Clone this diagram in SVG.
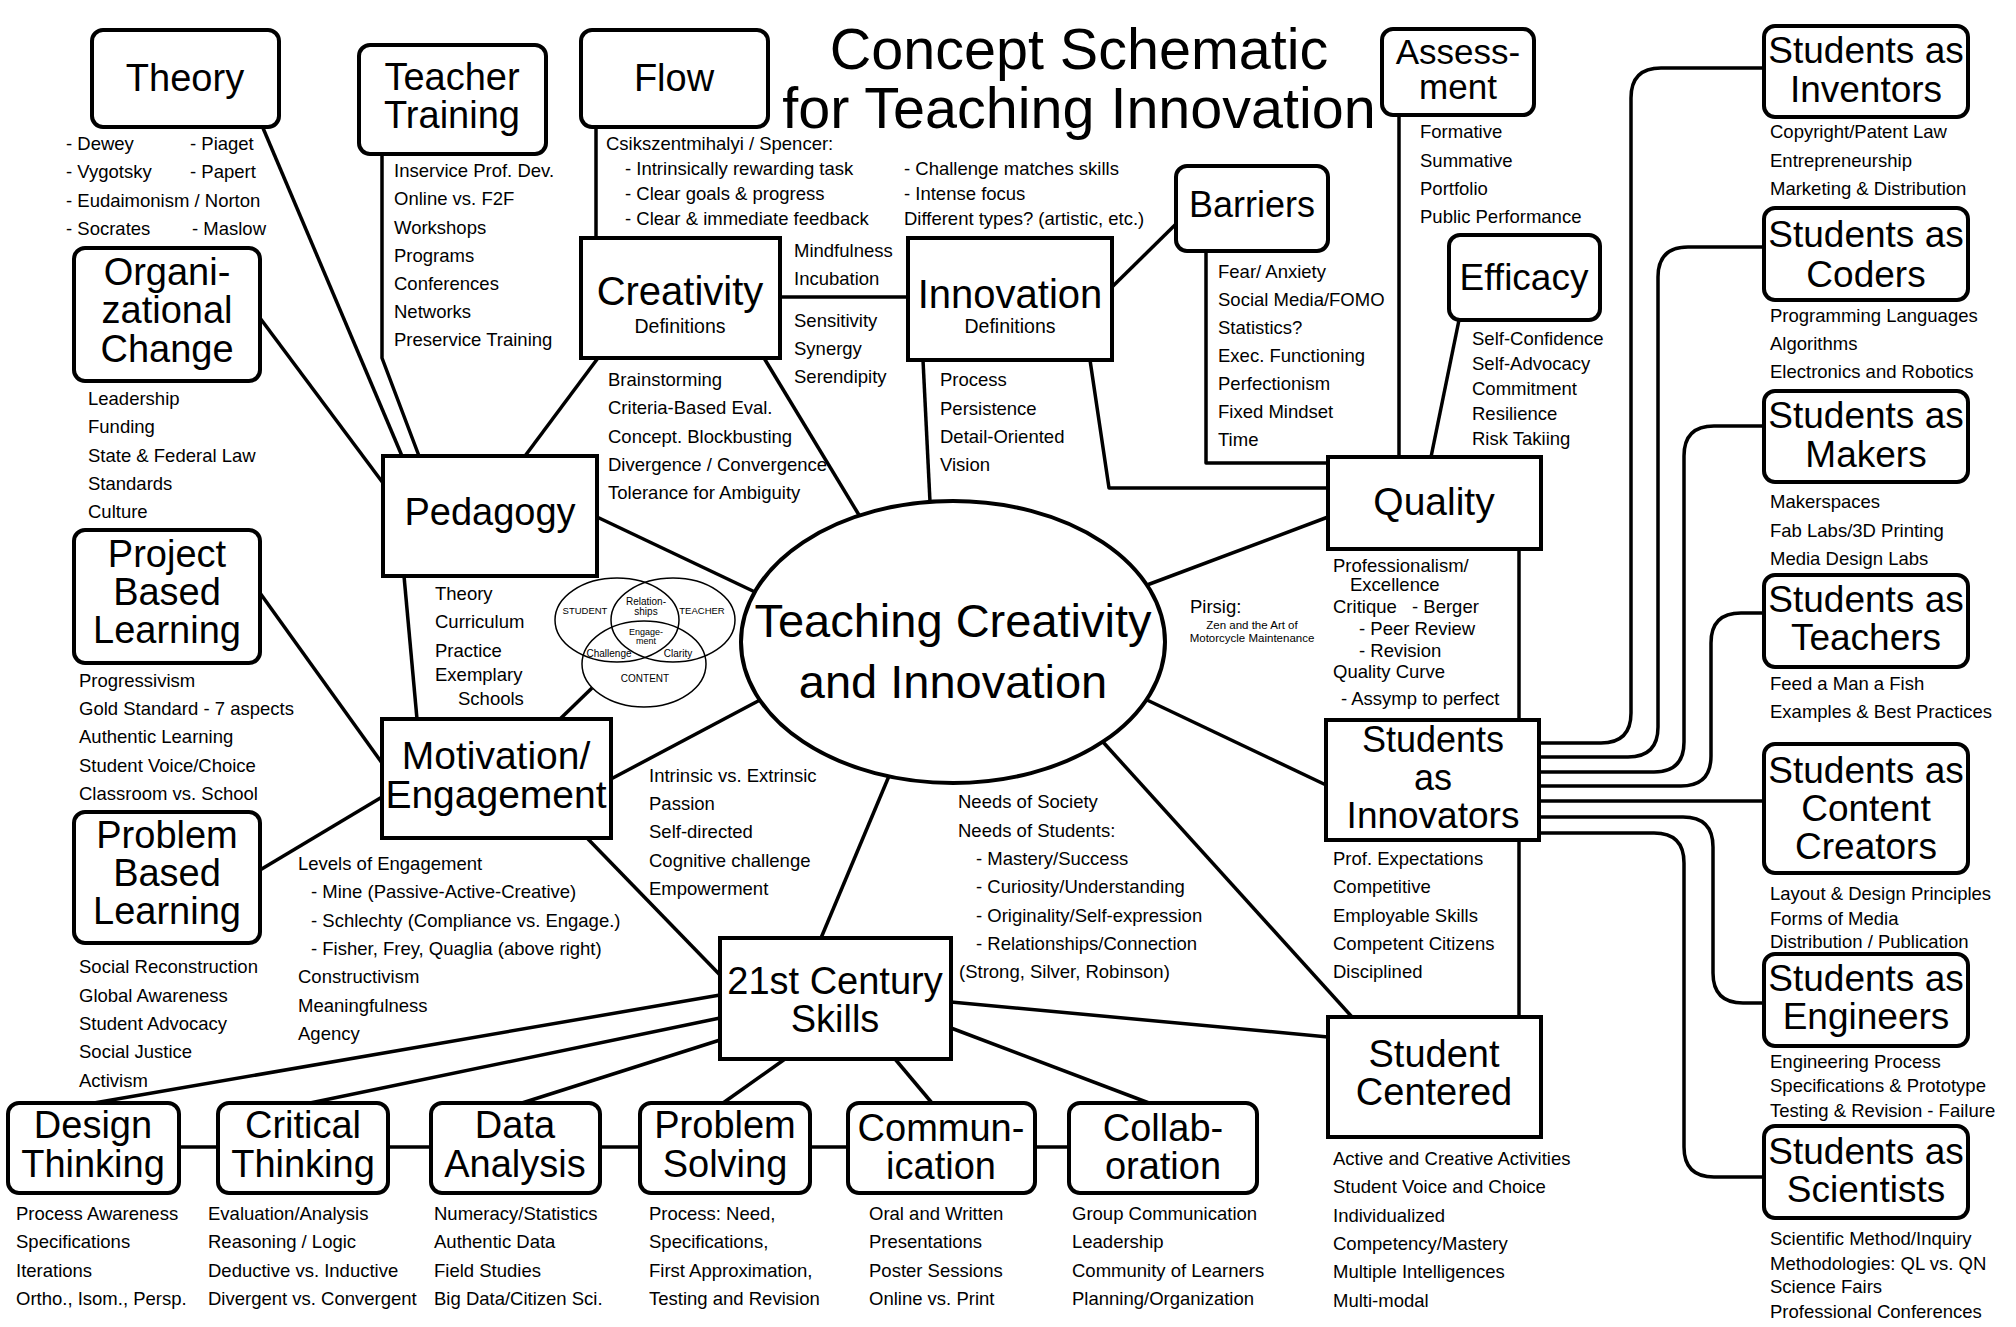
<svg xmlns="http://www.w3.org/2000/svg" width="2016" height="1327" viewBox="0 0 2016 1327">
<style>
text{font-family:"Liberation Sans",Arial,sans-serif;fill:#000}
.t{font-size:18.5px}
.h{font-size:38px;text-anchor:middle}
.s{font-size:37px;text-anchor:middle}
.d{font-size:19.5px;text-anchor:middle}
.v{font-size:10px;text-anchor:middle}
.box{fill:#fff;stroke:#000;stroke-width:4}
.ln{fill:none;stroke:#000;stroke-width:3.5;stroke-linejoin:round}
.ven{fill:none;stroke:#000;stroke-width:1.5}
</style>
<rect width="2016" height="1327" fill="#fff"/>
<g id="title">
<text style="font-size:57.5px;text-anchor:middle"><tspan x="1079" y="69">Concept Schematic</tspan><tspan x="1079" y="128">for Teaching Innovation</tspan></text>
</g>
<g id="connectors">
<polyline class="ln" points="263,128 402,456"/>
<polyline class="ln" points="382,154 382,358 419,456"/>
<polyline class="ln" points="260,318 383,483"/>
<polyline class="ln" points="596,127 596,238"/>
<polyline class="ln" points="598,358 525,456"/>
<polyline class="ln" points="780,297 908,297"/>
<polyline class="ln" points="764,358 859,515"/>
<polyline class="ln" points="923,360 930,502"/>
<polyline class="ln" points="1112,287 1177,223"/>
<polyline class="ln" points="1090,360 1109,488 1328,488"/>
<polyline class="ln" points="1206,251 1206,463 1328,463"/>
<polyline class="ln" points="1399,115 1399,457"/>
<polyline class="ln" points="1459,320 1431,457"/>
<polyline class="ln" points="1328,517 1147,585"/>
<polyline class="ln" points="1519,549 1519,720"/>
<polyline class="ln" points="1519,840 1519,1017"/>
<polyline class="ln" points="1147,700 1326,785"/>
<polyline class="ln" points="1103,742 1352,1017"/>
<polyline class="ln" points="889,776 821,938"/>
<polyline class="ln" points="597,517 755,592"/>
<polyline class="ln" points="404,576 417,719"/>
<polyline class="ln" points="560,719 592,688"/>
<polyline class="ln" points="611,779 760,700"/>
<polyline class="ln" points="587,838 720,975"/>
<polyline class="ln" points="260,593 382,763"/>
<polyline class="ln" points="260,870 382,797"/>
<polyline class="ln" points="720,995 94,1103"/>
<polyline class="ln" points="720,1018 310,1103"/>
<polyline class="ln" points="720,1040 522,1103"/>
<polyline class="ln" points="785,1059 723,1103"/>
<polyline class="ln" points="895,1059 932,1103"/>
<polyline class="ln" points="951,1028 1149,1103"/>
<polyline class="ln" points="951,1002 1328,1037"/>
<polyline class="ln" points="179,1147 1069,1147"/>
<path class="ln" d="M1539,743 H1601 Q1631,743 1631,713 V98 Q1631,68 1661,68 H1764"/>
<path class="ln" d="M1539,757 H1628 Q1658,757 1658,727 V277 Q1658,247 1688,247 H1764"/>
<path class="ln" d="M1539,772 H1654 Q1684,772 1684,742 V456 Q1684,426 1714,426 H1764"/>
<path class="ln" d="M1539,786 H1681 Q1711,786 1711,756 V643 Q1711,613 1741,613 H1764"/>
<path class="ln" d="M1539,801 H1764"/>
<path class="ln" d="M1539,817 H1683 Q1713,817 1713,847 V973 Q1713,1003 1743,1003 H1764"/>
<path class="ln" d="M1539,833 H1654 Q1684,833 1684,863 V1147 Q1684,1177 1714,1177 H1764"/>
</g>
<g id="theory">
<rect class="box" x="92" y="30" width="187" height="97" rx="11"/>
<text class="h" x="185" y="91">Theory</text>
<text class="t" x="66" y="150">- Dewey</text><text class="t" x="190" y="150">- Piaget</text>
<text class="t" x="66" y="178">- Vygotsky</text><text class="t" x="190" y="178">- Papert</text>
<text class="t" x="66" y="207">- Eudaimonism / Norton</text>
<text class="t" x="66" y="235">- Socrates</text><text class="t" x="192" y="235">- Maslow</text>
</g>
<g id="teacher-training">
<rect class="box" x="359" y="45" width="187" height="109" rx="11"/>
<text class="h"><tspan x="452" y="90">Teacher</tspan><tspan x="452" y="128">Training</tspan></text>
<text class="t" x="394" y="177">Inservice Prof. Dev.</text>
<text class="t" x="394" y="205">Online vs. F2F</text>
<text class="t" x="394" y="234">Workshops</text>
<text class="t" x="394" y="262">Programs</text>
<text class="t" x="394" y="290">Conferences</text>
<text class="t" x="394" y="318">Networks</text>
<text class="t" x="394" y="346">Preservice Training</text>
</g>
<g id="flow">
<rect class="box" x="581" y="30" width="187" height="97" rx="11"/>
<text class="h" x="674" y="91">Flow</text>
<text class="t" x="606" y="150">Csikszentmihalyi / Spencer:</text>
<text class="t" x="625" y="175">- Intrinsically rewarding task</text>
<text class="t" x="625" y="200">- Clear goals &amp; progress</text>
<text class="t" x="625" y="225">- Clear &amp; immediate feedback</text>
<text class="t" x="904" y="175">- Challenge matches skills</text>
<text class="t" x="904" y="200">- Intense focus</text>
<text class="t" x="904" y="225">Different types? (artistic, etc.)</text>
</g>
<g id="org-change">
<rect class="box" x="74" y="248" width="186" height="133" rx="11"/>
<text class="h"><tspan x="167" y="285">Organi-</tspan><tspan x="167" y="323">zational</tspan><tspan x="167" y="362">Change</tspan></text>
<text class="t" x="88" y="405">Leadership</text>
<text class="t" x="88" y="433">Funding</text>
<text class="t" x="88" y="462">State &amp; Federal Law</text>
<text class="t" x="88" y="490">Standards</text>
<text class="t" x="88" y="518">Culture</text>
</g>
<g id="project-based">
<rect class="box" x="74" y="530" width="186" height="133" rx="11"/>
<text class="h"><tspan x="167" y="567">Project</tspan><tspan x="167" y="605">Based</tspan><tspan x="167" y="643">Learning</tspan></text>
<text class="t" x="79" y="687">Progressivism</text>
<text class="t" x="79" y="715">Gold Standard - 7 aspects</text>
<text class="t" x="79" y="743">Authentic Learning</text>
<text class="t" x="79" y="772">Student Voice/Choice</text>
<text class="t" x="79" y="800">Classroom vs. School</text>
</g>
<g id="problem-based">
<rect class="box" x="74" y="812" width="186" height="131" rx="11"/>
<text class="h"><tspan x="167" y="848">Problem</tspan><tspan x="167" y="886">Based</tspan><tspan x="167" y="924">Learning</tspan></text>
<text class="t" x="79" y="973">Social Reconstruction</text>
<text class="t" x="79" y="1002">Global Awareness</text>
<text class="t" x="79" y="1030">Student Advocacy</text>
<text class="t" x="79" y="1058">Social Justice</text>
<text class="t" x="79" y="1087">Activism</text>
</g>
<g id="creativity">
<rect class="box" x="581" y="238" width="199" height="120"/>
<text class="h" x="680" y="305" style="font-size:40px">Creativity</text>
<text class="d" x="680" y="333">Definitions</text>
<text class="t" x="608" y="386">Brainstorming</text>
<text class="t" x="608" y="414">Criteria-Based Eval.</text>
<text class="t" x="608" y="443">Concept. Blockbusting</text>
<text class="t" x="608" y="471">Divergence / Convergence</text>
<text class="t" x="608" y="499">Tolerance for Ambiguity</text>
<text class="t" x="794" y="257">Mindfulness</text>
<text class="t" x="794" y="285">Incubation</text>
<text class="t" x="794" y="327">Sensitivity</text>
<text class="t" x="794" y="355">Synergy</text>
<text class="t" x="794" y="383">Serendipity</text>
</g>
<g id="innovation">
<rect class="box" x="908" y="238" width="204" height="122"/>
<text class="h" x="1010" y="308" style="font-size:40px">Innovation</text>
<text class="d" x="1010" y="333">Definitions</text>
<text class="t" x="940" y="386">Process</text>
<text class="t" x="940" y="415">Persistence</text>
<text class="t" x="940" y="443">Detail-Oriented</text>
<text class="t" x="940" y="471">Vision</text>
</g>
<g id="barriers">
<rect class="box" x="1176" y="166" width="152" height="85" rx="11"/>
<text class="h" x="1252" y="217" style="font-size:36px">Barriers</text>
<text class="t" x="1218" y="278">Fear/ Anxiety</text>
<text class="t" x="1218" y="306">Social Media/FOMO</text>
<text class="t" x="1218" y="334">Statistics?</text>
<text class="t" x="1218" y="362">Exec. Functioning</text>
<text class="t" x="1218" y="390">Perfectionism</text>
<text class="t" x="1218" y="418">Fixed Mindset</text>
<text class="t" x="1218" y="446">Time</text>
</g>
<g id="assessment">
<rect class="box" x="1382" y="29" width="152" height="86" rx="11"/>
<text class="s" style="font-size:35px"><tspan x="1458" y="64">Assess-</tspan><tspan x="1458" y="99">ment</tspan></text>
<text class="t" x="1420" y="138">Formative</text>
<text class="t" x="1420" y="167">Summative</text>
<text class="t" x="1420" y="195">Portfolio</text>
<text class="t" x="1420" y="223">Public Performance</text>
</g>
<g id="efficacy">
<rect class="box" x="1449" y="235" width="151" height="85" rx="11"/>
<text class="s" x="1524" y="290">Efficacy</text>
<text class="t" x="1472" y="345">Self-Confidence</text>
<text class="t" x="1472" y="370">Self-Advocacy</text>
<text class="t" x="1472" y="395">Commitment</text>
<text class="t" x="1472" y="420">Resilience</text>
<text class="t" x="1472" y="445">Risk Takiing</text>
</g>
<g id="pedagogy">
<rect class="box" x="383" y="456" width="214" height="120"/>
<text class="h" x="490" y="525">Pedagogy</text>
<text class="t" x="435" y="600">Theory</text>
<text class="t" x="435" y="628">Curriculum</text>
<text class="t" x="435" y="657">Practice</text>
<text class="t"><tspan x="435" y="681">Exemplary</tspan><tspan x="458" y="705">Schools</tspan></text>
</g>
<g id="venn">
<ellipse class="ven" cx="617" cy="620" rx="62" ry="42"/>
<ellipse class="ven" cx="673" cy="620" rx="62" ry="42"/>
<ellipse class="ven" cx="644" cy="664" rx="62" ry="43"/>
<text class="v" x="585" y="614" style="font-size:9.5px">STUDENT</text>
<text class="v" x="702" y="614" style="font-size:9.5px">TEACHER</text>
<text class="v"><tspan x="646" y="605">Relation-</tspan><tspan x="646" y="615">ships</tspan></text>
<text class="v" style="font-size:9px"><tspan x="646" y="635">Engage-</tspan><tspan x="646" y="644">ment</tspan></text>
<text class="v" x="609" y="657">Challenge</text>
<text class="v" x="678" y="657">Clarity</text>
<text class="v" x="645" y="682">CONTENT</text>
</g>
<g id="motivation">
<rect class="box" x="382" y="719" width="229" height="119"/>
<text class="h" style="font-size:39px"><tspan x="496" y="769">Motivation/</tspan><tspan x="496" y="808">Engagement</tspan></text>
<text class="t" x="649" y="782">Intrinsic vs. Extrinsic</text>
<text class="t" x="649" y="810">Passion</text>
<text class="t" x="649" y="838">Self-directed</text>
<text class="t" x="649" y="867">Cognitive challenge</text>
<text class="t" x="649" y="895">Empowerment</text>
<text class="t" x="298" y="870">Levels of Engagement</text>
<text class="t" x="311" y="898">- Mine (Passive-Active-Creative)</text>
<text class="t" x="311" y="927">- Schlechty (Compliance vs. Engage.)</text>
<text class="t" x="311" y="955">- Fisher, Frey, Quaglia (above right)</text>
<text class="t" x="298" y="983">Constructivism</text>
<text class="t" x="298" y="1012">Meaningfulness</text>
<text class="t" x="298" y="1040">Agency</text>
</g>
<g id="center">
<ellipse cx="953" cy="642" rx="212" ry="141" fill="#fff" stroke="#000" stroke-width="4"/>
<text style="font-size:47px;text-anchor:middle"><tspan x="953" y="637">Teaching Creativity</tspan><tspan x="953" y="698">and Innovation</tspan></text>
</g>
<g id="pirsig">
<text class="t" x="1190" y="613">Pirsig:</text>
<text style="font-size:11.5px;text-anchor:middle"><tspan x="1252" y="629">Zen and the Art of</tspan><tspan x="1252" y="642">Motorcycle Maintenance</tspan></text>
</g>
<g id="needs">
<text class="t" x="958" y="808">Needs of Society</text>
<text class="t" x="958" y="837">Needs of Students:</text>
<text class="t" x="976" y="865">- Mastery/Success</text>
<text class="t" x="976" y="893">- Curiosity/Understanding</text>
<text class="t" x="976" y="922">- Originality/Self-expression</text>
<text class="t" x="976" y="950">- Relationships/Connection</text>
<text class="t" x="959" y="978">(Strong, Silver, Robinson)</text>
</g>
<g id="quality">
<rect class="box" x="1328" y="457" width="213" height="92"/>
<text class="h" x="1434" y="515" style="font-size:39px">Quality</text>
<text class="t"><tspan x="1333" y="572">Professionalism/</tspan><tspan x="1350" y="591">Excellence</tspan></text>
<text class="t" x="1333" y="613">Critique</text>
<text class="t" x="1412" y="613">- Berger</text>
<text class="t" x="1359" y="635">- Peer Review</text>
<text class="t" x="1359" y="657">- Revision</text>
<text class="t" x="1333" y="678">Quality Curve</text>
<text class="t" x="1341" y="705">- Assymp to perfect</text>
</g>
<g id="students-innovators">
<rect class="box" x="1326" y="720" width="213" height="120"/>
<text class="h" style="font-size:36px"><tspan x="1433" y="752">Students</tspan><tspan x="1433" y="790">as</tspan><tspan x="1433" y="828" style="font-size:37px">Innovators</tspan></text>
<text class="t" x="1333" y="865">Prof. Expectations</text>
<text class="t" x="1333" y="893">Competitive</text>
<text class="t" x="1333" y="922">Employable Skills</text>
<text class="t" x="1333" y="950">Competent Citizens</text>
<text class="t" x="1333" y="978">Disciplined</text>
</g>
<g id="student-centered">
<rect class="box" x="1328" y="1017" width="213" height="120"/>
<text class="h"><tspan x="1434" y="1067">Student</tspan><tspan x="1434" y="1105">Centered</tspan></text>
<text class="t" x="1333" y="1165">Active and Creative Activities</text>
<text class="t" x="1333" y="1193">Student Voice and Choice</text>
<text class="t" x="1333" y="1222">Individualized</text>
<text class="t" x="1333" y="1250">Competency/Mastery</text>
<text class="t" x="1333" y="1278">Multiple Intelligences</text>
<text class="t" x="1333" y="1307">Multi-modal</text>
</g>
<g id="century-skills">
<rect class="box" x="720" y="938" width="231" height="121"/>
<text class="h"><tspan x="835" y="994">21st Century</tspan><tspan x="835" y="1032">Skills</tspan></text>
</g>
<g id="design-thinking">
<rect class="box" x="8" y="1103" width="171" height="90" rx="11"/>
<text class="h"><tspan x="93" y="1138">Design</tspan><tspan x="93" y="1177">Thinking</tspan></text>
<text class="t" x="16" y="1220">Process Awareness</text>
<text class="t" x="16" y="1248">Specifications</text>
<text class="t" x="16" y="1277">Iterations</text>
<text class="t" x="16" y="1305">Ortho., Isom., Persp.</text>
</g>
<g id="critical-thinking">
<rect class="box" x="218" y="1103" width="170" height="90" rx="11"/>
<text class="h"><tspan x="303" y="1138">Critical</tspan><tspan x="303" y="1177">Thinking</tspan></text>
<text class="t" x="208" y="1220">Evaluation/Analysis</text>
<text class="t" x="208" y="1248">Reasoning / Logic</text>
<text class="t" x="208" y="1277">Deductive vs. Inductive</text>
<text class="t" x="208" y="1305">Divergent vs. Convergent</text>
</g>
<g id="data-analysis">
<rect class="box" x="431" y="1103" width="169" height="90" rx="11"/>
<text class="h"><tspan x="515" y="1138">Data</tspan><tspan x="515" y="1177">Analysis</tspan></text>
<text class="t" x="434" y="1220">Numeracy/Statistics</text>
<text class="t" x="434" y="1248">Authentic Data</text>
<text class="t" x="434" y="1277">Field Studies</text>
<text class="t" x="434" y="1305">Big Data/Citizen Sci.</text>
</g>
<g id="problem-solving">
<rect class="box" x="640" y="1103" width="170" height="90" rx="11"/>
<text class="h"><tspan x="725" y="1138">Problem</tspan><tspan x="725" y="1177">Solving</tspan></text>
<text class="t" x="649" y="1220">Process: Need,</text>
<text class="t" x="649" y="1248">Specifications,</text>
<text class="t" x="649" y="1277">First Approximation,</text>
<text class="t" x="649" y="1305">Testing and Revision</text>
</g>
<g id="communication">
<rect class="box" x="848" y="1103" width="187" height="90" rx="11"/>
<text class="h"><tspan x="941" y="1141">Commun-</tspan><tspan x="941" y="1179">ication</tspan></text>
<text class="t" x="869" y="1220">Oral and Written</text>
<text class="t" x="869" y="1248">Presentations</text>
<text class="t" x="869" y="1277">Poster Sessions</text>
<text class="t" x="869" y="1305">Online vs. Print</text>
</g>
<g id="collaboration">
<rect class="box" x="1069" y="1103" width="188" height="90" rx="11"/>
<text class="h"><tspan x="1163" y="1141">Collab-</tspan><tspan x="1163" y="1179">oration</tspan></text>
<text class="t" x="1072" y="1220">Group Communication</text>
<text class="t" x="1072" y="1248">Leadership</text>
<text class="t" x="1072" y="1277">Community of Learners</text>
<text class="t" x="1072" y="1305">Planning/Organization</text>
</g>
<g id="students-inventors">
<rect class="box" x="1764" y="26" width="204" height="91" rx="11"/>
<text class="s"><tspan x="1866" y="63">Students as</tspan><tspan x="1866" y="102">Inventors</tspan></text>
<text class="t" x="1770" y="138">Copyright/Patent Law</text>
<text class="t" x="1770" y="167">Entrepreneurship</text>
<text class="t" x="1770" y="195">Marketing &amp; Distribution</text>
</g>
<g id="students-coders">
<rect class="box" x="1764" y="208" width="204" height="92" rx="11"/>
<text class="s"><tspan x="1866" y="247">Students as</tspan><tspan x="1866" y="287">Coders</tspan></text>
<text class="t" x="1770" y="322">Programming Languages</text>
<text class="t" x="1770" y="350">Algorithms</text>
<text class="t" x="1770" y="378">Electronics and Robotics</text>
</g>
<g id="students-makers">
<rect class="box" x="1764" y="391" width="204" height="91" rx="11"/>
<text class="s"><tspan x="1866" y="428">Students as</tspan><tspan x="1866" y="467">Makers</tspan></text>
<text class="t" x="1770" y="508">Makerspaces</text>
<text class="t" x="1770" y="537">Fab Labs/3D Printing</text>
<text class="t" x="1770" y="565">Media Design Labs</text>
</g>
<g id="students-teachers">
<rect class="box" x="1764" y="575" width="204" height="92" rx="11"/>
<text class="s"><tspan x="1866" y="612">Students as</tspan><tspan x="1866" y="650">Teachers</tspan></text>
<text class="t" x="1770" y="690">Feed a Man a Fish</text>
<text class="t" x="1770" y="718">Examples &amp; Best Practices</text>
</g>
<g id="students-content">
<rect class="box" x="1764" y="744" width="204" height="129" rx="11"/>
<text class="s"><tspan x="1866" y="783">Students as</tspan><tspan x="1866" y="821">Content</tspan><tspan x="1866" y="859">Creators</tspan></text>
<text class="t" x="1770" y="900">Layout &amp; Design Principles</text>
<text class="t" x="1770" y="925">Forms of Media</text>
<text class="t" x="1770" y="948">Distribution / Publication</text>
</g>
<g id="students-engineers">
<rect class="box" x="1764" y="954" width="204" height="92" rx="11"/>
<text class="s"><tspan x="1866" y="991">Students as</tspan><tspan x="1866" y="1029">Engineers</tspan></text>
<text class="t" x="1770" y="1068">Engineering Process</text>
<text class="t" x="1770" y="1092">Specifications &amp; Prototype</text>
<text class="t" x="1770" y="1117">Testing &amp; Revision - Failure</text>
</g>
<g id="students-scientists">
<rect class="box" x="1764" y="1126" width="204" height="92" rx="11"/>
<text class="s"><tspan x="1866" y="1164">Students as</tspan><tspan x="1866" y="1202">Scientists</tspan></text>
<text class="t" x="1770" y="1245">Scientific Method/Inquiry</text>
<text class="t" x="1770" y="1270">Methodologies: QL vs. QN</text>
<text class="t" x="1770" y="1293">Science Fairs</text>
<text class="t" x="1770" y="1318">Professional Conferences</text>
</g>
</svg>
